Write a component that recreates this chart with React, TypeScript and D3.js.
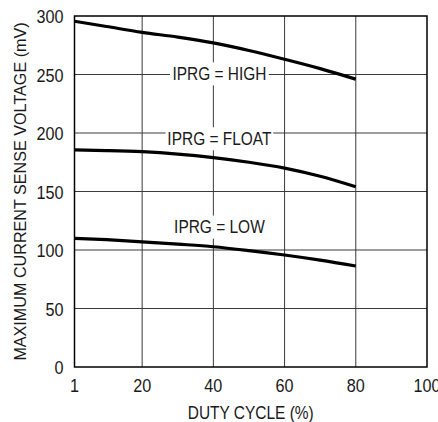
import React from 'react';
import { scaleLinear, line, curveMonotoneX } from 'd3';

const dutyCycle = [1, 10, 20, 30, 40, 50, 60, 70, 80];
const highValues = [295.5, 291, 286, 282, 277, 270.5, 263, 255, 246];
const floatValues = [185.5, 185, 184, 182, 179, 175, 170, 163, 154];
const lowValues = [110, 108.8, 107, 105, 102.8, 99.5, 95.7, 91.3, 86.3];
const xTicks = [1, 20, 40, 60, 80, 100];
const yTicks = [0, 50, 100, 150, 200, 250, 300];
const labels = [
  { text: 'IPRG = HIGH', x: 41.7, y: 251 },
  { text: 'IPRG = FLOAT', x: 41.7, y: 195.5 },
  { text: 'IPRG = LOW', x: 41.7, y: 120 },
];

const W = 438;
const H = 422;
const margin = { left: 74.5, right: 11, top: 16, bottom: 55 };
const FONT = '"Liberation Sans", Arial, sans-serif';
const SX = 0.86; // condensed look

// text squeezed horizontally, like the condensed face of the original
const CText: React.FC<{
  x: number;
  y: number;
  anchor?: 'start' | 'middle' | 'end';
  rotate?: number;
  sx?: number;
  size?: number;
  dy?: string;
  children: React.ReactNode;
}> = ({ x, y, anchor = 'middle', rotate = 0, sx = SX, size = 18, dy, children }) => (
  <text
    transform={`translate(${x},${y}) rotate(${rotate}) scale(${sx},1)`}
    textAnchor={anchor}
    dy={dy}
    fontSize={size}
    fill="#1a1a1a"
  >
    {children}
  </text>
);

const App: React.FC = () => {
  const x = scaleLinear().domain([1, 100]).range([margin.left, W - margin.right]);
  const y = scaleLinear().domain([0, 300]).range([H - margin.bottom, margin.top]);

  const lineGen = line<[number, number]>()
    .x(d => x(d[0]))
    .y(d => y(d[1]))
    .curve(curveMonotoneX);

  const series = [highValues, floatValues, lowValues].map(vals =>
    dutyCycle.map((d, i) => [d, vals[i]] as [number, number])
  );

  return (
    <svg width={W} height={H} style={{ position: 'absolute', left: 0, top: 0 }} fontFamily={FONT}>
      <rect width={W} height={H} fill="#fff" />
      {/* grid */}
      {xTicks.slice(1, -1).map(t => (
        <line key={'gx' + t} x1={x(t)} x2={x(t)} y1={y(0)} y2={y(300)} stroke="#3a3a3a" strokeWidth={1} />
      ))}
      {yTicks.slice(1, -1).map(t => (
        <line key={'gy' + t} x1={x(1)} x2={x(100)} y1={y(t)} y2={y(t)} stroke="#3a3a3a" strokeWidth={1} />
      ))}
      {/* labels with white boxes */}
      {labels.map(l => {
        const w = l.text.length * 8.8 + 2;
        return (
          <g key={l.text}>
            <rect x={x(l.x) - w / 2} y={y(l.y) - 11} width={w} height={23} fill="#fff" />
            <CText x={x(l.x)} y={y(l.y)} dy="0.36em">
              {l.text}
            </CText>
          </g>
        );
      })}
      {/* curves */}
      {series.map((s, i) => (
        <path key={i} d={lineGen(s) || ''} fill="none" stroke="#000" strokeWidth={3.2} />
      ))}
      {/* frame */}
      <rect x={x(1)} y={y(300)} width={x(100) - x(1)} height={y(0) - y(300)} fill="none" stroke="#000" strokeWidth={1.5} />
      {/* tick labels */}
      {yTicks.map(t => (
        <CText key={'ty' + t} x={margin.left - 11} y={y(t) + 1} dy="0.36em" anchor="end" sx={0.9}>
          {t}
        </CText>
      ))}
      {xTicks.map(t => (
        <CText key={'tx' + t} x={x(t)} y={y(0) + 18.5} dy="0.36em" sx={0.9}>
          {t}
        </CText>
      ))}
      <CText x={x(50.5)} y={419}>
        DUTY CYCLE (%)
      </CText>
      <CText x={26} y={(y(0) + y(300)) / 2} rotate={-90} sx={0.95} size={17}>
        MAXIMUM CURRENT SENSE VOLTAGE (mV)
      </CText>
    </svg>
  );
};

export default App;
